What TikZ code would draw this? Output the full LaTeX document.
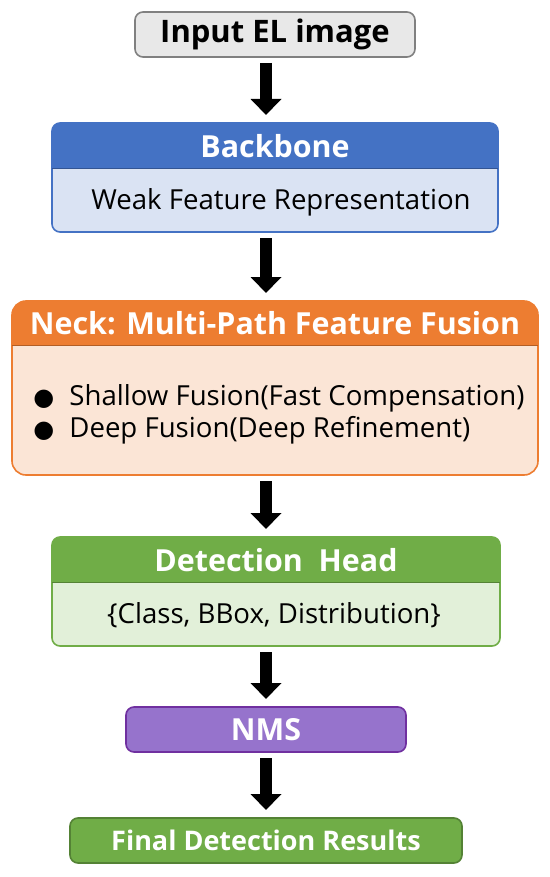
\documentclass[tikz,border=0pt]{standalone}
\usepackage{fontspec}
\setmainfont{Open Sans}
\newfontfamily\bulletfont{DejaVu Sans}
\usetikzlibrary{arrows.meta}

\definecolor{inpgray}{HTML}{E8E8E8}
\definecolor{bbblue}{HTML}{4472C4}
\definecolor{bbbody}{HTML}{DAE3F3}
\definecolor{nkorange}{HTML}{ED7D31}
\definecolor{nkbody}{HTML}{FBE5D6}
\definecolor{hdgreen}{HTML}{70AD47}
\definecolor{hdbody}{HTML}{E2F0D9}
\definecolor{nmspurple}{HTML}{9673CC}
\definecolor{nmsedge}{HTML}{7030A0}
\definecolor{fingreen}{HTML}{548235}

\begin{document}
\begin{tikzpicture}[x=0.5pt, y=-0.5pt,
  frame/.style={draw, rounded corners=4pt, line width=0.8pt, outer sep=0pt, inner sep=0pt},
  title/.style={font=\bfseries\fontsize{15.2}{18}\selectfont, text=white},
  plain/.style={font=\fontsize{13.8}{16}\selectfont},
  bigarrow/.style={line width=6pt, -{Triangle[length=8pt,width=15pt]}, shorten <=3pt, shorten >=4pt}
]
  \useasboundingbox (0,0) rectangle (550,877);

  % Input
  \node[frame, draw=gray, fill=inpgray, minimum width=140pt, minimum height=22.5pt,
        font=\bfseries\fontsize{15.5}{18}\selectfont] (input) at (275,34.5) {Input EL image};

  % Blocks with a coloured header
  \node[frame, draw=bbblue, fill=bbbody, minimum width=223pt, minimum height=54.5pt] (backbone) at (275,177.5) {};
  \node[frame, draw=nkorange, fill=nkbody, rounded corners=7pt, minimum width=263pt, minimum height=87pt] (neck) at (275,388) {};
  \node[frame, draw=hdgreen, fill=hdbody, minimum width=224pt, minimum height=54.5pt] (head) at (276,591.5) {};

  \foreach \n/\c/\r/\h in {backbone/bbblue/4pt/23pt, neck/nkorange/7pt/22pt, head/hdgreen/4pt/22.5pt} {
    \fill[\c, rounded corners=\r] (\n.north west) rectangle ([yshift=-\h]\n.north east);
    \fill[\c] ([yshift=-9pt]\n.north west) rectangle ([yshift=-\h]\n.north east);
    \draw[\c!75!black, line width=0.5pt] ([yshift=-\h]\n.north west) -- ([yshift=-\h]\n.north east);
  }

  % Titles
  \node[title] (bbtitle) at (275,146) {Backbone};
  \node[title] (nktitle) at (275,323) {Neck: Multi-Path Feature Fusion};
  \node[title] (hdtitle) at (276,560) {Detection\ \ Head};

  % Contents
  \node[plain] (bbtext) at (281,202) {Weak Feature Representation};
  \node[plain, anchor=west, align=left, inner sep=0pt,
        font=\fontsize{13.8}{16}\selectfont] (nktext) at (33,414)
    {\makebox[18pt][l]{\bulletfont\fontsize{12}{16}\selectfont ●}Shallow Fusion(Fast Compensation)\\
     \makebox[18pt][l]{\bulletfont\fontsize{12}{16}\selectfont ●}Deep Fusion(Deep Refinement)};
  \node[plain] (hdtext) at (274,615) {\{Class, BBox, Distribution\}};

  % NMS and result
  \node[frame, draw=nmsedge, fill=nmspurple, minimum width=140pt, minimum height=22.5pt, title] (nms) at (266,729.5) {NMS};
  \node[frame, draw=fingreen, fill=hdgreen, minimum width=196pt, minimum height=22.5pt, title,
        font=\bfseries\fontsize{13.5}{16}\selectfont] (final) at (266,840.5) {Final Detection Results};

  % Arrows
  \draw[bigarrow] (input.south -| nms) -- (backbone.north -| nms);
  \draw[bigarrow] (backbone.south -| nms) -- (neck.north -| nms);
  \draw[bigarrow] (neck.south -| nms) -- (head.north -| nms);
  \draw[bigarrow] (head.south -| nms) -- (nms.north);
  \draw[bigarrow] (nms.south) -- (final.north);
\end{tikzpicture}
\end{document}
